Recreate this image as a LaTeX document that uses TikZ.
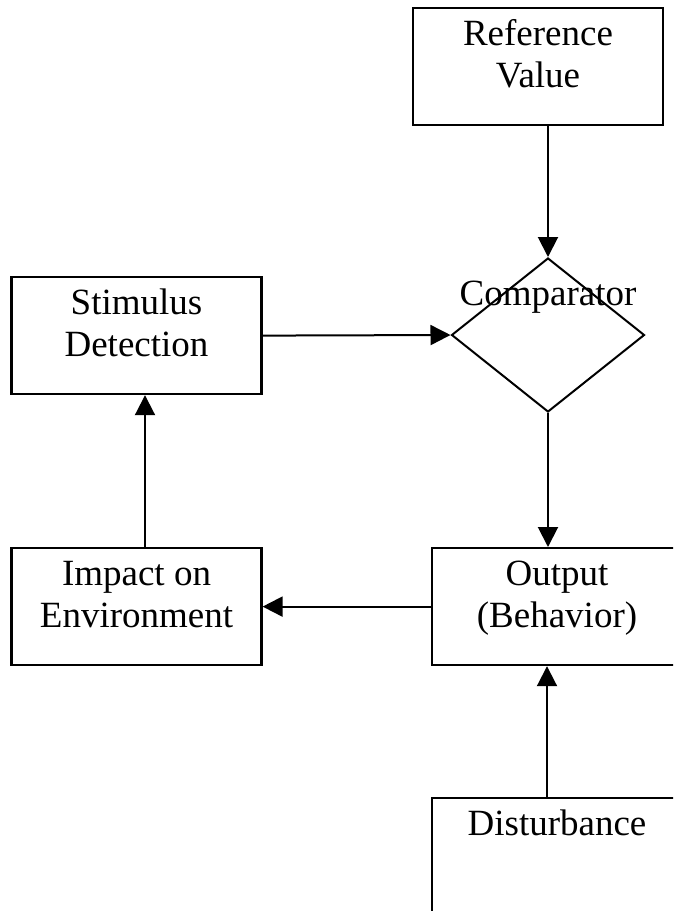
\documentclass[tikz,border=0pt]{standalone}
\usepackage{fontspec}
\setmainfont{Liberation Serif}
\usetikzlibrary{shapes.geometric,arrows.meta}

\newcommand{\boxfont}{\fontsize{37}{42}\selectfont}

\tikzset{
  blockbox/.style={draw, line width=2.2pt, minimum width=250pt, inner sep=0pt,
    anchor=north, text height=37pt, text depth=80pt, font=\boxfont},
  decide/.style={draw, diamond, line width=2pt, inner sep=0pt,
    minimum width=193pt, minimum height=154pt, font=\boxfont},
  flow/.style={line width=2pt, -{Triangle[length=20pt,width=20pt]}}
}

\begin{document}
\begin{tikzpicture}[x=1pt,y=-1pt]

\path[use as bounding box, clip] (0,0) rectangle (673,911);

% blocks
\node[blockbox] (refval) at (538,7) {\begin{tabular}[t]{c}Reference\\Value\end{tabular}};
\node[decide] (comp) at (548,335) {\raisebox{30pt}[0pt][0pt]{\makebox[0pt]{Comparator}}};
\node[blockbox] (stim) at (136.5,276) {\begin{tabular}[t]{c}Stimulus\\Detection\end{tabular}};
\node[blockbox] (output) at (557,547) {\begin{tabular}[t]{c}Output\\(Behavior)\end{tabular}};
\node[blockbox] (impact) at (136.5,547) {\begin{tabular}[t]{c}Impact on\\Environment\end{tabular}};
\node[blockbox, text depth=130pt] (dist) at (557,797) {Disturbance};

% loop
\draw[flow] (comp.north |- refval.south) -- (comp.north);
\draw[flow] (stim.east) -- (comp.west);
\draw[flow] (comp.south) -- (comp.south |- output.north);
\draw[flow] (output.west) -- (impact.east);
\draw[flow] ([xshift=8.5pt]impact.north) -- ([xshift=8.5pt]stim.south);
\draw[flow] ([xshift=-10pt]dist.north) -- ([xshift=-10pt]output.south);

\end{tikzpicture}
\end{document}
